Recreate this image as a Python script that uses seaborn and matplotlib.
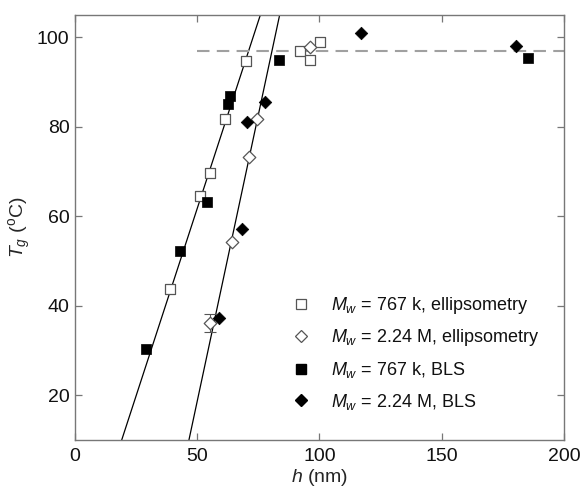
import matplotlib
matplotlib.use("Agg")
import matplotlib.pyplot as plt
import seaborn as sns
from matplotlib.lines import Line2D

# ---- data ----
ell767_h = [38.9, 51.2, 55.3, 61.2, 70.1, 92.2, 96.3, 100.4]
ell767_tg = [43.7, 64.5, 69.7, 81.7, 94.7, 96.9, 94.9, 99.0]

ell224_h = [55.3, 64.2, 71.3, 74.5, 96.3]
ell224_tg = [36.2, 54.2, 73.2, 81.7, 97.9]
ell224_err = [2.0, 0, 0, 0, 0]

bls767_h = [29.1, 43.0, 54.0, 62.6, 63.5, 83.3, 185.1]
bls767_tg = [30.3, 52.2, 63.1, 85.0, 86.9, 94.9, 95.5]

bls224_h = [58.7, 68.3, 70.4, 77.6, 116.8, 180.3]
bls224_tg = [37.2, 57.1, 81.0, 85.6, 101.0, 98.0]

fit1_h = [19.1, 75.8]
fit1_tg = [10.0, 105.0]
fit2_h = [46.6, 83.7]
fit2_tg = [10.0, 105.0]

plateau_h = [50.0, 200.0]
plateau_tg = [97.0, 97.0]

labels = [r"$M_w$ = 767 k, ellipsometry",
          r"$M_w$ = 2.24 M, ellipsometry",
          r"$M_w$ = 767 k, BLS",
          r"$M_w$ = 2.24 M, BLS"]

sns.set_theme(style="ticks")
plt.rcParams["font.family"] = ["Liberation Sans", "DejaVu Sans"]
plt.rcParams["mathtext.fontset"] = "custom"
plt.rcParams["mathtext.rm"] = "Liberation Sans"
plt.rcParams["mathtext.it"] = "Liberation Sans:italic"
plt.rcParams["text.color"] = "#111111"

fig = plt.figure(figsize=(5.82, 4.91), dpi=100)
ax = fig.add_axes([75/582, 51/491, 489/582, 425/491])

# fit lines
sns.lineplot(x=fit1_h, y=fit1_tg, ax=ax, color="black", lw=0.9, sort=False)
sns.lineplot(x=fit2_h, y=fit2_tg, ax=ax, color="black", lw=0.9, sort=False)
sns.lineplot(x=plateau_h, y=plateau_tg, ax=ax, color="#a0a0a0", lw=1.5,
             sort=False, dashes=False, linestyle=(0, (6, 3.5)))

# error bar
ax.errorbar(ell224_h[:1], ell224_tg[:1], yerr=ell224_err[:1], fmt="none",
            ecolor="#555555", elinewidth=0.8, capsize=4, capthick=0.8, zorder=2)

ms = 48
sns.scatterplot(x=ell767_h, y=ell767_tg, ax=ax, marker="s", s=ms,
                facecolor="white", edgecolor="#555555", linewidth=0.9, zorder=3)
sns.scatterplot(x=ell224_h, y=ell224_tg, ax=ax, marker="D", s=ms*0.85,
                facecolor="white", edgecolor="#555555", linewidth=0.9, zorder=3)
sns.scatterplot(x=bls767_h, y=bls767_tg, ax=ax, marker="s", s=ms,
                color="black", edgecolor="black", linewidth=0.5, zorder=4)
sns.scatterplot(x=bls224_h, y=bls224_tg, ax=ax, marker="D", s=ms*0.85,
                color="black", edgecolor="black", linewidth=0.5, zorder=4)

handles = [
    Line2D([], [], ls="none", marker="s", ms=6.5, mfc="white", mec="#555555", mew=0.9),
    Line2D([], [], ls="none", marker="D", ms=6, mfc="white", mec="#555555", mew=0.9),
    Line2D([], [], ls="none", marker="s", ms=6.5, mfc="black", mec="black"),
    Line2D([], [], ls="none", marker="D", ms=6, mfc="black", mec="black"),
]
ax.legend(handles, labels, loc="lower left", bbox_to_anchor=(0.428, 0.05),
          frameon=False, fontsize=13, handlelength=1.0, handletextpad=1.2,
          labelspacing=0.64, borderaxespad=0)

ax.set_xlim(0, 200)
ax.set_ylim(10, 105)
ax.set_xticks([0, 50, 100, 150, 200])
ax.set_yticks([20, 40, 60, 80, 100])
ax.tick_params(direction="in", top=True, right=True, length=5, width=0.9,
               color="#777777", labelcolor="#111111", labelsize=14)
ax.tick_params(axis="y", pad=4)
ax.tick_params(axis="x", pad=6)
for s in ax.spines.values():
    s.set_color("#777777")
    s.set_linewidth(1.0)
ax.set_xlabel(r"$h$ (nm)", fontsize=14, labelpad=1.5)
ax.set_ylabel(r"$T_g$ ($^{\mathrm{o}}$C)", fontsize=14, labelpad=3)

fig.savefig("out.png", dpi=100)
